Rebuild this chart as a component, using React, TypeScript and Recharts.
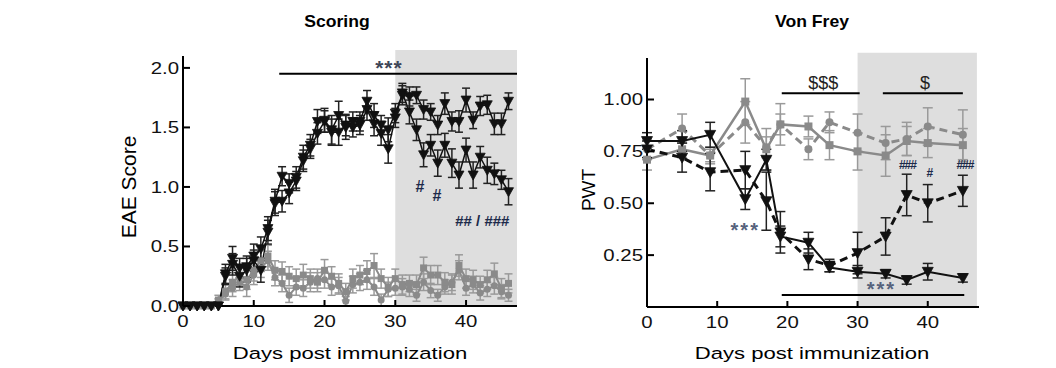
import React from 'react';
import { LineChart, Line, XAxis, YAxis, ErrorBar, ReferenceArea, ReferenceLine, ReferenceDot } from 'recharts';

const FONT = '"Liberation Sans", Arial, Helvetica, sans-serif';
const GRAY = '#8a8a8a';

// ---- Scoring (daily EAE score) ----
const scoringDays = [0, 1, 2, 3, 4, 5, 6, 7, 8, 9, 10, 11, 12, 13, 14, 15, 16, 17, 18, 19, 20, 21, 22, 23, 24, 25, 26, 27, 28, 29, 30, 31, 32, 33, 34, 35, 36, 37, 38, 39, 40, 41, 42, 43, 44, 45, 46];
const eaeHigh = [0, 0, 0, 0, 0, 0, 0.27, 0.40, 0.32, 0.33, 0.42, 0.48, 0.65, 0.88, 1.09, 1.03, 1.08, 1.25, 1.35, 1.55, 1.56, 1.48, 1.60, 1.50, 1.55, 1.55, 1.72, 1.60, 1.52, 1.48, 1.62, 1.77, 1.76, 1.77, 1.65, 1.63, 1.52, 1.70, 1.55, 1.55, 1.73, 1.56, 1.68, 1.69, 1.53, 1.53, 1.72];
const eaeHighErr = [0, 0, 0, 0, 0, 0, 0.08, 0.10, 0.08, 0.09, 0.10, 0.10, 0.10, 0.10, 0.08, 0.08, 0.09, 0.10, 0.09, 0.10, 0.10, 0.12, 0.12, 0.10, 0.08, 0.08, 0.09, 0.10, 0.08, 0.10, 0.08, 0.08, 0.08, 0.07, 0.08, 0.07, 0.08, 0.09, 0.08, 0.09, 0.10, 0.07, 0.08, 0.08, 0.09, 0.09, 0.07];
const eaeLow = [0, 0, 0, 0, 0, 0, 0.25, 0.35, 0.25, 0.30, 0.38, 0.30, 0.62, 0.86, 0.88, 0.95, 1.05, 1.22, 1.32, 1.45, 1.55, 1.46, 1.46, 1.52, 1.50, 1.52, 1.65, 1.53, 1.45, 1.32, 1.58, 1.79, 1.63, 1.48, 1.27, 1.35, 1.20, 1.35, 1.20, 1.10, 1.31, 1.10, 1.25, 1.14, 1.11, 1.06, 0.96];
const eaeLowErr = [0, 0, 0, 0, 0, 0, 0.07, 0.09, 0.09, 0.10, 0.09, 0.10, 0.10, 0.10, 0.09, 0.09, 0.08, 0.09, 0.08, 0.09, 0.09, 0.11, 0.11, 0.09, 0.08, 0.08, 0.09, 0.10, 0.10, 0.12, 0.08, 0.08, 0.10, 0.09, 0.10, 0.09, 0.11, 0.10, 0.12, 0.11, 0.10, 0.11, 0.09, 0.11, 0.09, 0.08, 0.11];
const ctrlA = [0, 0, 0, 0, 0, 0.05, 0.12, 0.20, 0.25, 0.22, 0.30, 0.38, 0.42, 0.30, 0.29, 0.25, 0.23, 0.26, 0.23, 0.20, 0.30, 0.25, 0.19, 0.12, 0.23, 0.26, 0.29, 0.34, 0.23, 0.16, 0.23, 0.18, 0.19, 0.18, 0.32, 0.26, 0.26, 0.20, 0.18, 0.34, 0.23, 0.22, 0.18, 0.22, 0.27, 0.15, 0.19];
const ctrlAErr = [0, 0, 0, 0, 0, 0.04, 0.06, 0.08, 0.08, 0.08, 0.09, 0.09, 0.09, 0.08, 0.08, 0.08, 0.08, 0.09, 0.08, 0.08, 0.09, 0.08, 0.08, 0.07, 0.08, 0.08, 0.09, 0.10, 0.08, 0.08, 0.08, 0.08, 0.07, 0.08, 0.09, 0.08, 0.08, 0.08, 0.08, 0.09, 0.08, 0.08, 0.07, 0.08, 0.09, 0.08, 0.08];
const ctrlB = [0, 0, 0, 0, 0, 0.03, 0.10, 0.15, 0.20, 0.16, 0.26, 0.32, 0.38, 0.24, 0.19, 0.09, 0.16, 0.15, 0.20, 0.23, 0.22, 0.16, 0.17, 0.04, 0.18, 0.20, 0.22, 0.16, 0.05, 0.14, 0.15, 0.16, 0.14, 0.09, 0.20, 0.13, 0.09, 0.16, 0.20, 0.30, 0.15, 0.18, 0.11, 0.14, 0.17, 0.12, 0.09];
const ctrlBErr = [0, 0, 0, 0, 0, 0.03, 0.05, 0.07, 0.07, 0.08, 0.08, 0.08, 0.08, 0.07, 0.07, 0.06, 0.07, 0.07, 0.08, 0.08, 0.07, 0.07, 0.07, 0.04, 0.07, 0.07, 0.08, 0.07, 0.05, 0.06, 0.06, 0.07, 0.06, 0.05, 0.07, 0.06, 0.05, 0.06, 0.07, 0.08, 0.06, 0.07, 0.06, 0.06, 0.07, 0.06, 0.05];
const scoringYTicks = [0, 0.5, 1, 1.5, 2];
const dayTicks = [0, 10, 20, 30, 40];

// ---- Von Frey (paw withdrawal threshold) ----
const vfDays = [0, 5, 9, 14, 17, 19, 23, 26, 30, 34, 37, 40, 45];
const pwtBlackSolid = [0.80, 0.80, 0.83, 0.52, 0.71, 0.34, 0.31, 0.19, 0.17, 0.16, 0.13, 0.17, 0.14];
const pwtBlackSolidErr = [0.04, 0.05, 0.06, 0.05, 0.05, 0.05, 0.05, 0.02, 0.03, 0.02, 0.02, 0.04, 0.02];
const pwtBlackDashed = [0.76, 0.72, 0.65, 0.66, 0.51, 0.36, 0.23, 0.20, 0.26, 0.34, 0.54, 0.50, 0.56];
const pwtBlackDashedErr = [0.04, 0.07, 0.09, 0.09, 0.14, 0.10, 0.05, 0.03, 0.10, 0.09, 0.10, 0.09, 0.075];
const pwtGraySolid = [0.71, 0.76, 0.73, 0.99, 0.76, 0.88, 0.87, 0.78, 0.75, 0.73, 0.80, 0.79, 0.78];
const pwtGraySolidErr = [0.05, 0.04, 0.04, 0.11, 0.10, 0.10, 0.05, 0.07, 0.09, 0.10, 0.07, 0.07, 0.08];
const pwtGrayDashed = [0.76, 0.86, 0.73, 0.89, 0.77, 0.88, 0.76, 0.89, 0.84, 0.79, 0.81, 0.87, 0.83];
const pwtGrayDashedErr = [0.05, 0.07, 0.03, 0.10, 0.05, 0.05, 0.05, 0.05, 0.09, 0.08, 0.08, 0.09, 0.12];
const pwtYTicks = [0.25, 0.5, 0.75, 1];

const scoringData = scoringDays.map((d, i) => ({
  day: d,
  high: eaeHigh[i], highErr: eaeHighErr[i],
  low: eaeLow[i], lowErr: eaeLowErr[i],
  ca: ctrlA[i], caErr: ctrlAErr[i],
  cb: ctrlB[i], cbErr: ctrlBErr[i],
}));

const vfData = vfDays.map((d, i) => ({
  day: d,
  bs: pwtBlackSolid[i], bsErr: pwtBlackSolidErr[i],
  bd: pwtBlackDashed[i], bdErr: pwtBlackDashedErr[i],
  gs: pwtGraySolid[i], gsErr: pwtGraySolidErr[i],
  gd: pwtGrayDashed[i], gdErr: pwtGrayDashedErr[i],
}));

const triDown = (color: string, s: number) => (p: any) => {
  const { cx, cy, index } = p;
  if (cx == null || cy == null) return <g key={'t' + index} />;
  return (
    <path key={'t' + index} d={`M${cx - s},${cy - s * 0.8} L${cx + s},${cy - s * 0.8} L${cx},${cy + s} Z`}
      fill={color} stroke={color} strokeWidth={0.8} />
  );
};
const square = (color: string, s: number) => (p: any) => {
  const { cx, cy, index } = p;
  if (cx == null || cy == null) return <g key={'s' + index} />;
  return <rect key={'s' + index} x={cx - s} y={cy - s} width={s * 2} height={s * 2} fill={color} />;
};
const circle = (color: string, r: number) => (p: any) => {
  const { cx, cy, index } = p;
  if (cx == null || cy == null) return <g key={'c' + index} />;
  return <circle key={'c' + index} cx={cx} cy={cy} r={r} fill={color} />;
};

const YTick = (fmt: (v: number) => string) => (p: any) => (
  <g>
    <line x1={p.x} x2={p.x + 7} y1={p.y} y2={p.y} stroke="#000" strokeWidth={2} />
    <text transform={`translate(${p.x - 4},${p.y}) scale(1.2,1)`} textAnchor="end" dominantBaseline="central"
      fontSize={17} fontFamily={FONT} fill="#111">{fmt(p.payload.value)}</text>
  </g>
);
const XTick = (p: any) => (
  <g>
    <line x1={p.x} x2={p.x} y1={p.y} y2={p.y - 6} stroke="#000" strokeWidth={2} />
    <text transform={`translate(${p.x},${p.y + 21}) scale(1.2,1)`} textAnchor="middle"
      fontSize={17} fontFamily={FONT} fill="#111">{p.payload.value}</text>
  </g>
);

const note = (text: string, size: number, color: string, bold = false, spacing = 0) => (p: any) => (
  <text x={p.cx} y={p.cy} textAnchor="middle" dominantBaseline="central" fontSize={size}
    fontFamily={FONT} fontWeight={bold ? 'bold' : 'normal'} letterSpacing={spacing} fill={color}>{text}</text>
);

const App = () => {
  return (
    <div style={{ position: 'absolute', left: 0, top: 0, width: 1056, height: 368, background: '#fff' }}>
      <svg width={1056} height={368} style={{ position: 'absolute', left: 0, top: 0 }}>
        <text transform="translate(337,27) scale(1.1,1)" textAnchor="middle" fontSize={16} fontWeight="bold" fontFamily={FONT}>Scoring</text>
        <text transform="translate(812,27) scale(1.1,1)" textAnchor="middle" fontSize={16} fontWeight="bold" fontFamily={FONT}>Von Frey</text>
        <text transform="translate(350,359) scale(1.3,1)" textAnchor="middle" fontSize={17} fontFamily={FONT}>Days post immunization</text>
        <text transform="translate(812,359) scale(1.3,1)" textAnchor="middle" fontSize={17} fontFamily={FONT}>Days post immunization</text>
        <text transform="translate(128,187) rotate(-90)" textAnchor="middle" dominantBaseline="central" fontSize={21} fontFamily={FONT}>EAE Score</text>
        <text transform="translate(588,190) rotate(-90)" textAnchor="middle" dominantBaseline="central" fontSize={19} fontFamily={FONT}>PWT</text>
      </svg>

      <div style={{ position: 'absolute', left: 0, top: 0 }}>
        <LineChart width={540} height={368} data={scoringData} margin={{ top: 56, right: 23, bottom: 0, left: 0 }}>
          <ReferenceArea x1={30} x2={47.2} y1={0} y2={2.15} fill="#dedede" fillOpacity={1} stroke="none" ifOverflow="visible" />
          <XAxis type="number" dataKey="day" domain={[0, 47.2]} ticks={dayTicks} height={62} tickSize={0} tickMargin={0}
            tickLine={false} axisLine={{ stroke: '#000', strokeWidth: 2 }} tick={XTick} />
          <YAxis type="number" domain={[0, 2.1]} ticks={scoringYTicks} width={183} tickSize={0} tickMargin={0}
            tickLine={false} axisLine={{ stroke: '#000', strokeWidth: 2 }} tick={YTick((v) => v.toFixed(1))} />
          <ReferenceLine segment={[{ x: 13.6, y: 1.95 }, { x: 47.2, y: 1.95 }]} stroke="#000" strokeWidth={2} />
          <Line dataKey="cb" stroke={GRAY} strokeWidth={2} dot={circle(GRAY, 3.5)} isAnimationActive={false}>
            <ErrorBar dataKey="cbErr" width={4} stroke="#9a9a9a" strokeWidth={1.5} direction="y" />
          </Line>
          <Line dataKey="ca" stroke={GRAY} strokeWidth={2} dot={square(GRAY, 3.5)} isAnimationActive={false}>
            <ErrorBar dataKey="caErr" width={4} stroke="#9a9a9a" strokeWidth={1.5} direction="y" />
          </Line>
          <Line dataKey="low" stroke="#111" strokeWidth={1.5} dot={triDown('#111', 5)} isAnimationActive={false}>
            <ErrorBar dataKey="lowErr" width={4} stroke="#222" strokeWidth={1.5} direction="y" />
          </Line>
          <Line dataKey="high" stroke="#111" strokeWidth={1.5} dot={triDown('#111', 5)} isAnimationActive={false}>
            <ErrorBar dataKey="highErr" width={4} stroke="#222" strokeWidth={1.5} direction="y" />
          </Line>
          <ReferenceDot x={29.1} y={2.0} r={0} shape={note('***', 21, '#3e4658', true, 1)} />
          <ReferenceDot x={33.5} y={1.0} r={0} shape={note('#', 16, '#1c2a4a', true)} />
          <ReferenceDot x={35.9} y={0.93} r={0} shape={note('#', 16, '#1c2a4a', true)} />
          <ReferenceDot x={42.3} y={0.72} r={0} shape={note('## / ###', 15, '#1c2a4a', true)} />
        </LineChart>
      </div>

      <div style={{ position: 'absolute', left: 540, top: 0 }}>
        <LineChart width={516} height={368} data={vfData} margin={{ top: 58, right: 77, bottom: 0, left: 0 }}>
          <ReferenceArea x1={30} x2={47.0} y1={0} y2={1.225} fill="#dedede" fillOpacity={1} stroke="none" ifOverflow="visible" />
          <XAxis type="number" dataKey="day" domain={[0, 47.3]} ticks={dayTicks} height={61} tickSize={0} tickMargin={0}
            tickLine={false} axisLine={{ stroke: '#000', strokeWidth: 2 }} tick={XTick} />
          <YAxis type="number" domain={[0, 1.2]} ticks={pwtYTicks} width={107} tickSize={0} tickMargin={0}
            tickLine={false} axisLine={{ stroke: '#000', strokeWidth: 2 }} tick={YTick((v) => v.toFixed(2))} />
          <ReferenceLine segment={[{ x: 19.2, y: 1.03 }, { x: 30.3, y: 1.03 }]} stroke="#000" strokeWidth={2} />
          <ReferenceLine segment={[{ x: 33.6, y: 1.03 }, { x: 45, y: 1.03 }]} stroke="#000" strokeWidth={2} />
          <ReferenceLine segment={[{ x: 19.2, y: 0.058 }, { x: 45.2, y: 0.058 }]} stroke="#000" strokeWidth={2} />
          <Line dataKey="gd" stroke={GRAY} strokeWidth={3} strokeDasharray="8 5" dot={circle(GRAY, 4)} isAnimationActive={false}>
            <ErrorBar dataKey="gdErr" width={5} stroke="#9a9a9a" strokeWidth={1.5} direction="y" />
          </Line>
          <Line dataKey="gs" stroke={GRAY} strokeWidth={2.5} dot={square(GRAY, 4)} isAnimationActive={false}>
            <ErrorBar dataKey="gsErr" width={5} stroke="#9a9a9a" strokeWidth={1.5} direction="y" />
          </Line>
          <Line dataKey="bd" stroke="#111" strokeWidth={3} strokeDasharray="8 5" dot={triDown('#111', 5.5)} isAnimationActive={false}>
            <ErrorBar dataKey="bdErr" width={5} stroke="#222" strokeWidth={1.5} direction="y" />
          </Line>
          <Line dataKey="bs" stroke="#111" strokeWidth={2} dot={triDown('#111', 5.5)} isAnimationActive={false}>
            <ErrorBar dataKey="bsErr" width={5} stroke="#222" strokeWidth={1.5} direction="y" />
          </Line>
          <ReferenceDot x={14} y={0.37} r={0} shape={note('***', 20, '#56627c', true, 2)} />
          <ReferenceDot x={25.1} y={1.08} r={0} shape={note('$$$', 18, '#222')} />
          <ReferenceDot x={39.6} y={1.08} r={0} shape={note('$', 18, '#222')} />
          <ReferenceDot x={33.4} y={0.085} r={0} shape={note('***', 20, '#56627c', true, 2)} />
          <ReferenceDot x={37.1} y={0.684} r={0} shape={note('###', 12, '#1c2a4a', true, -1)} />
          <ReferenceDot x={40.3} y={0.646} r={0} shape={note('#', 12, '#1c2a4a', true)} />
          <ReferenceDot x={45.3} y={0.684} r={0} shape={note('###', 12, '#1c2a4a', true, -1)} />
        </LineChart>
      </div>
    </div>
  );
};

export default App;
